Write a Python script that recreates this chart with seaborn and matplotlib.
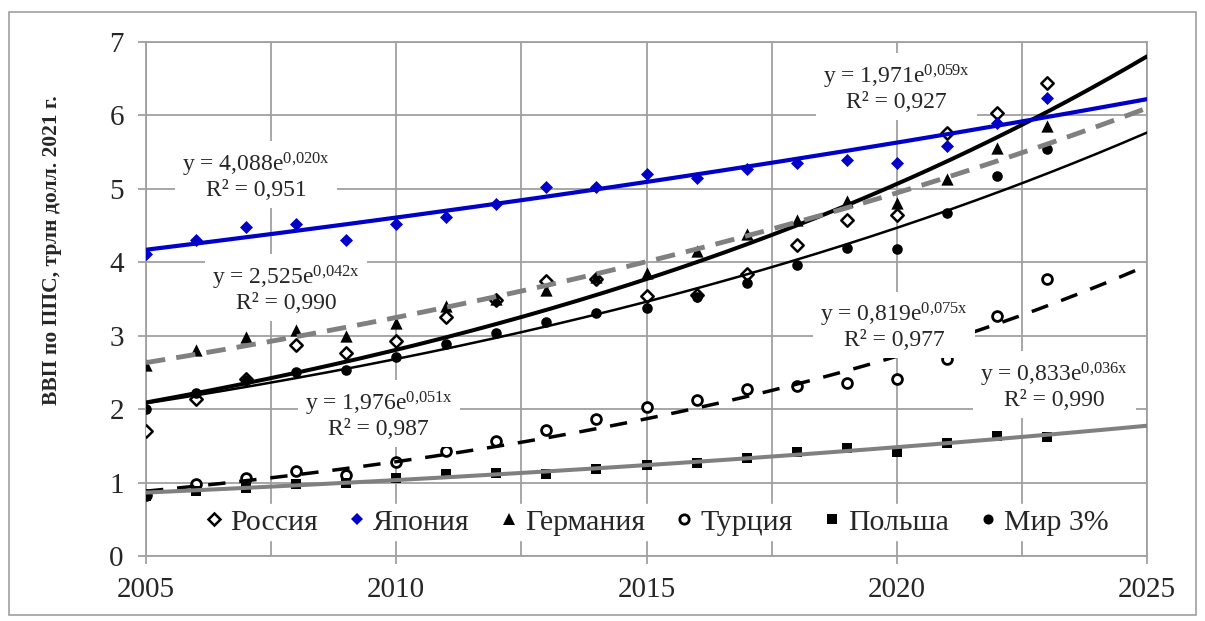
import numpy as np
import pandas as pd
import matplotlib
matplotlib.use("Agg")
import matplotlib.pyplot as plt
import seaborn as sns
from matplotlib.lines import Line2D
from matplotlib.patches import Rectangle

# data, trln USD (PPP, 2021 prices)
years = list(range(2005, 2024))
russia = [1.70, 2.14, 2.41, 2.87, 2.77, 2.93, 3.26, 3.48, 3.74, 3.77, 3.54, 3.55,
          3.84, 4.23, 4.58, 4.65, 5.76, 6.03, 6.44]
japan = [4.11, 4.31, 4.48, 4.52, 4.31, 4.52, 4.62, 4.80, 5.02, 5.02, 5.20, 5.15,
         5.27, 5.35, 5.39, 5.35, 5.59, 5.90, 6.24]
germany = [2.60, 2.81, 2.98, 3.08, 3.00, 3.17, 3.40, 3.50, 3.62, 3.80, 3.86, 4.16,
           4.39, 4.58, 4.83, 4.81, 5.14, 5.56, 5.85]
turkey = [0.83, 0.98, 1.06, 1.16, 1.10, 1.28, 1.43, 1.57, 1.72, 1.87, 2.03, 2.13,
          2.27, 2.31, 2.36, 2.41, 2.68, 3.27, 3.77]
poland = [0.82, 0.88, 0.93, 0.98, 0.99, 1.06, 1.12, 1.13, 1.12, 1.18, 1.24, 1.26,
          1.33, 1.42, 1.47, 1.42, 1.54, 1.63, 1.62]
world = [2.00, 2.22, 2.40, 2.51, 2.53, 2.71, 2.89, 3.04, 3.19, 3.31, 3.38, 3.53,
         3.72, 3.96, 4.19, 4.18, 4.67, 5.17, 5.54]

names = ["Россия", "Япония", "Германия", "Турция", "Польша", "Мир 3%"]

# exponential trendlines y = a*exp(b*x), x = year - 2004 (as in the chart labels)
trend_a = [1.971, 4.088, 2.525, 0.819, 0.833, 1.976]
trend_b = [0.059, 0.020, 0.042, 0.075, 0.036, 0.051]
trend_r2 = ["0,927", "0,951", "0,990", "0,977", "0,990", "0,987"]

# label centres (year, value)
label_pos = [(2020.0, 6.38), (2007.2, 5.18), (2007.8, 3.64),
             (2019.95, 3.13), (2023.15, 2.32), (2009.65, 1.92)]

df = pd.DataFrame({"year": years, "Россия": russia, "Япония": japan,
                   "Германия": germany, "Турция": turkey, "Польша": poland,
                   "Мир 3%": world})

sns.set_theme(style="white")
plt.rcParams["font.family"] = ["Liberation Serif", "DejaVu Serif"]
plt.rcParams["mathtext.default"] = "regular"

BLUE = "#0000C8"
GREY = "#808080"
GRID = "#A0A0A0"

marker_style = {
    "Россия": dict(marker="D", s=40, facecolor="white", edgecolor="black", linewidth=1.8),
    "Япония": dict(marker="D", s=44, facecolor=BLUE, edgecolor=BLUE, linewidth=0),
    "Германия": dict(marker="^", s=78, facecolor="black", edgecolor="black", linewidth=0),
    "Турция": dict(marker="o", s=50, facecolor="white", edgecolor="black", linewidth=2.0),
    "Польша": dict(marker="s", s=54, facecolor="black", edgecolor="black", linewidth=0),
    "Мир 3%": dict(marker="o", s=58, facecolor="black", edgecolor="black", linewidth=0),
}
line_style = {
    "Россия": dict(color="black", lw=2.9, dashes=None),
    "Япония": dict(color=BLUE, lw=3.0, dashes=None),
    "Германия": dict(color=GREY, lw=3.5, dashes=(4, 2.3)),
    "Турция": dict(color="black", lw=2.5, dashes=(5, 4)),
    "Польша": dict(color=GREY, lw=2.9, dashes=None),
    "Мир 3%": dict(color="black", lw=1.8, dashes=None),
}

fig = plt.figure(figsize=(12.05, 6.21), dpi=100)
ax = fig.add_axes([146 / 1205, 1 - 556 / 621, 1001 / 1205, 514 / 621])

for name in names:
    sns.scatterplot(data=df, x="year", y=name, ax=ax, zorder=3, legend=False,
                    **marker_style[name])

xs = np.linspace(2005, 2025, 300)
for i, name in enumerate(names):
    ys = trend_a[i] * np.exp(trend_b[i] * (xs - 2004))
    st = line_style[name]
    sns.lineplot(x=xs, y=ys, ax=ax, color=st["color"], lw=st["lw"], zorder=4)
    if st["dashes"] is not None:
        ax.lines[-1].set_dashes(st["dashes"])

for i, name in enumerate(names):
    a_txt = f"{trend_a[i]:.3f}".replace(".", ",")
    b_txt = f"{trend_b[i]:.3f}".replace(".", "{,}")
    txt = f"y = {a_txt}e$^{{{b_txt}x}}$\nR² = {trend_r2[i]}"
    ax.text(label_pos[i][0], label_pos[i][1], txt, ha="center", va="center",
            multialignment="center", fontsize=17, zorder=6, linespacing=1.05,
            bbox=dict(boxstyle="square,pad=0.3", fc="white", ec="none"))

ax.set_xlim(2005, 2025)
ax.set_ylim(0, 7)
ax.set_xticks([2005, 2010, 2015, 2020, 2025])
ax.set_xticks(np.arange(2005, 2025.1, 2.5), minor=True)
ax.set_yticks(range(0, 8))
ax.grid(True, which="both", color=GRID, lw=1.3, zorder=0)
ax.set_axisbelow(True)
for sp in ax.spines.values():
    sp.set_color(GRID)
    sp.set_linewidth(1.3)
ax.tick_params(axis="both", which="major", labelsize=21, length=6, color=GRID,
               width=1.3, direction="out", left=True, bottom=True)
ax.tick_params(axis="x", which="major", pad=9)
ax.tick_params(axis="y", which="major", pad=10)
ax.tick_params(axis="x", which="minor", length=0)
ax.set_xlabel("")
ax.set_ylabel("")

handles = [Line2D([], [], linestyle="none", marker=marker_style[n]["marker"],
                  markersize=np.sqrt(marker_style[n]["s"]) * 0.95,
                  markerfacecolor=marker_style[n]["facecolor"],
                  markeredgecolor=marker_style[n]["edgecolor"],
                  markeredgewidth=marker_style[n]["linewidth"]) for n in names]
leg = ax.legend(handles, names, loc="center", bbox_to_anchor=(0.511, 0.066), ncol=6,
                fontsize=21.5, frameon=True, framealpha=1, edgecolor="white",
                facecolor="white", handlelength=0.5, handletextpad=0.3,
                columnspacing=1.05, borderpad=0.15, fancybox=False)
leg.set_zorder(7)

fig.text(52 / 1205, 1 - 250 / 621, "ВВП по ППС, трлн долл. 2021 г.", rotation=90,
         ha="center", va="center", fontsize=15.5, fontweight="bold")

fig.patches.append(Rectangle((9 / 1205, 1 - 615 / 621), 1187 / 1205, 603 / 621,
                             transform=fig.transFigure, fill=False,
                             edgecolor="#A0A0A0", lw=1.2))

fig.savefig("out.png", dpi=100)
